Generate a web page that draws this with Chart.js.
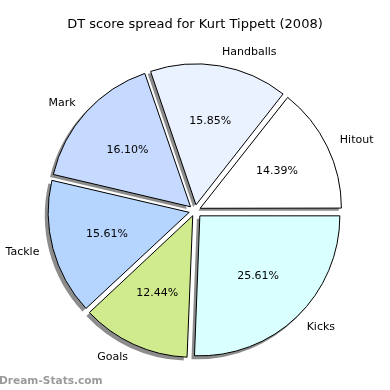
<!DOCTYPE html>
<html>
<head>
<meta charset="utf-8">
<script src="https://cdn.jsdelivr.net/npm/chart.js@4"></script>
<style>
html,body{margin:0;padding:0;background:#fff;}
#wrap{width:390px;height:390px;position:relative;}
</style>
</head>
<body>
<div id="wrap"><canvas id="c" width="390" height="390"></canvas></div>
<script>
// Data (matplotlib counter-clockwise order from 3 o'clock)
const categories = ['Hitout', 'Handballs', 'Mark', 'Tackle', 'Goals', 'Kicks'];
const values = [14.39, 15.85, 16.10, 15.61, 12.44, 25.61];
const colors = ['#ffffff', '#eaf1ff', '#c6d9fe', '#b5d5fe', '#d0ea8e', '#d9ffff'];
const titleText = 'DT score spread for Kurt Tippett (2008)';
const watermark = 'Dream-Stats.com';

// Chart.js draws clockwise: reverse to mimic counter-clockwise layout
const cjLabels = categories.slice().reverse();
const cjValues = values.slice().reverse();
const cjColors = colors.slice().reverse();
const total = cjValues.reduce((a, b) => a + b, 0);

const EXPLODE = 7; // pixels of uniform explode
function fixOf(v) {
  return 1 - Math.sin(Math.min(Math.PI, v / total * Math.PI * 2));
}
function arcOffset(v) {
  return 4 * EXPLODE / (1 + fixOf(v));
}
function translation(v) {
  return arcOffset(v) / 4 * (1 + fixOf(v));
}

function arcGeom(arc, i) {
  const p = arc.getProps(['x', 'y', 'startAngle', 'endAngle', 'outerRadius']);
  const mid = (p.startAngle + p.endAngle) / 2;
  const t = translation(cjValues[i]);
  return {
    cx: p.x + Math.cos(mid) * t,
    cy: p.y + Math.sin(mid) * t,
    r: p.outerRadius, mid, s: p.startAngle, e: p.endAngle
  };
}

const shadowPlugin = {
  id: 'shadowPlugin',
  beforeDatasetsDraw(chart) {
    const ctx = chart.ctx;
    const meta = chart.getDatasetMeta(0);
    ctx.save();
    ctx.fillStyle = 'rgba(45,45,45,0.55)';
    meta.data.forEach((arc, i) => {
      const g = arcGeom(arc, i);
      ctx.beginPath();
      ctx.moveTo(g.cx - 3, g.cy + 3);
      ctx.arc(g.cx - 3, g.cy + 3, g.r + 0.5, g.s, g.e);
      ctx.closePath();
      ctx.fill();
    });
    ctx.restore();
  }
};

const labelPlugin = {
  id: 'labelPlugin',
  afterDraw(chart) {
    const ctx = chart.ctx;
    const meta = chart.getDatasetMeta(0);
    ctx.save();
    ctx.font = '11px "DejaVu Sans"';
    ctx.fillStyle = '#000';
    ctx.textBaseline = 'middle';
    meta.data.forEach((arc, i) => {
      const g = arcGeom(arc, i);
      const lx = g.cx + Math.cos(g.mid) * g.r * 1.1;
      const ly = g.cy + Math.sin(g.mid) * g.r * 1.1;
      ctx.textAlign = Math.cos(g.mid) > 0 ? 'left' : 'right';
      ctx.fillText(cjLabels[i], lx, ly);
      const px = g.cx + Math.cos(g.mid) * g.r * 0.6;
      const py = g.cy + Math.sin(g.mid) * g.r * 0.6;
      ctx.textAlign = 'center';
      ctx.fillText(cjValues[i].toFixed(2) + '%', px, py);
    });
    ctx.font = 'bold 10.6px "DejaVu Sans"';
    ctx.fillStyle = 'rgba(120,120,120,0.75)';
    ctx.textAlign = 'left';
    ctx.textBaseline = 'alphabetic';
    ctx.fillText(watermark, -1, 384);
    ctx.restore();
  }
};

new Chart(document.getElementById('c'), {
  type: 'pie',
  data: {
    labels: cjLabels,
    datasets: [{
      data: cjValues,
      backgroundColor: cjColors,
      borderColor: '#000',
      borderWidth: 1,
      borderJoinStyle: 'miter',
      offset: cjValues.map(arcOffset),
      hoverOffset: 0
    }]
  },
  options: {
    responsive: false,
    animation: false,
    rotation: 90,
    radius: 140,
    layout: { padding: { bottom: 1 } },
    plugins: {
      legend: { display: false },
      tooltip: { enabled: false },
      title: {
        display: true,
        text: titleText,
        color: '#000',
        font: { family: 'DejaVu Sans', size: 13, weight: 'normal' },
        padding: { top: 17, bottom: 0 }
      }
    },
    events: []
  },
  plugins: [shadowPlugin, labelPlugin]
});
</script>
</body>
</html>
